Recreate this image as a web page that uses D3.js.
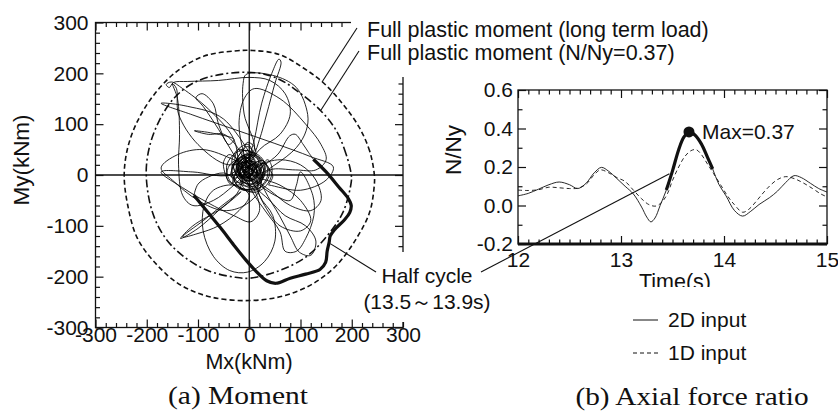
<!DOCTYPE html>
<html>
<head>
<meta charset="utf-8">
<script src="https://cdn.jsdelivr.net/npm/d3@7"></script>
<style>
  body { margin: 0; background: #fff; }
  svg { display: block; }
  text { font-family: "Liberation Sans", Arial, sans-serif; fill: #111; }
  .serif { font-family: "Liberation Serif", "Times New Roman", serif; }
</style>
</head>
<body>
<svg id="chart" width="838" height="412"></svg>
<script>
// ---- data ----
var momentTicks = [-300, -200, -100, 0, 100, 200, 300];
var ratioTicks = [-0.2, 0, 0.2, 0.4, 0.6];
var timeTicks = [12, 13, 14, 15];

// full plastic moment, long term load (dashed), [Mx, My] kNm
var plasticLongTerm = [
  [244, 1], [235, 47], [215, 93], [183, 139], [144, 182], [105, 211], [59, 237], [7, 245],
  [-29, 244], [-88, 234], [-140, 205], [-185, 159], [-218, 106], [-237, 54], [-244, 0],
  [-237, -60], [-218, -125], [-179, -178], [-133, -217], [-75, -240], [0, -247], [66, -238],
  [124, -214], [170, -178], [209, -125], [235, -73], [244, -20]
];
// full plastic moment, N/Ny = 0.37 (dash-dot)
var plasticN037 = [
  [199, 1], [189, 41], [170, 87], [140, 126], [98, 162], [59, 188], [14, 201], [-55, 198],
  [-107, 182], [-146, 152], [-176, 106], [-195, 54], [-201, 0], [-189, -73], [-163, -125],
  [-127, -161], [-81, -188], [-29, -201], [1, -203], [59, -188], [111, -161], [150, -122],
  [183, -73], [199, -14]
];

// 2D input moment trajectory before the half cycle (thin)
var moment2D = [
  [-5, 10], [8, 22], [20, 12], [14, -4], [-2, -12], [-16, -2], [-20, 16], [-8, 30], [6, 36], [12, 24],
  [2, 10], [-10, 4], [-14, -14], [-2, -24], [14, -18], [24, -4], [30, 14], [22, 30], [8, 44], [-10, 48],
  [-22, 36], [-30, 18], [-36, 2], [-28, -14], [-14, -28], [4, -32], [20, -26], [34, -12], [40, 6],
  [32, 22], [16, 20], [6, 4], [-6, -4], [-20, 4], [-26, 24], [-18, 42], [-4, 56], [6, 48], [0, 34],
  [10, 70], [24, 140], [44, 200], [58, 228], [62, 222], [50, 180], [34, 120], [20, 70], [8, 40],
  [-14, 24], [-26, 34], [-40, 40], [-50, 26], [-48, 6], [-40, -12], [-24, -20], [-8, -14], [4, 0],
  [12, 12], [24, 20], [36, 30], [44, 16], [42, -6], [30, -24], [12, -34], [-6, -30], [-16, -16],
  [-30, 70], [-80, 130], [-130, 170], [-152, 183], [-162, 178], [-156, 172], [-148, 182], [-120, 184],
  [-60, 186], [0, 192], [40, 186], [70, 160], [80, 120], [60, 80], [20, 50],
  [-10, 0], [2, 16], [-6, 26], [-18, 20], [-22, 6], [-12, -6], [0, -4], [8, 8], [0, 22], [-12, 40],
  [-4, 64], [8, 58], [12, 40],
  [-40, 20], [-100, 60], [-138, 120], [-142, 170], [-150, 180], [-140, 150], [-136, 80], [-138, 20],
  [-130, -40], [-110, -60], [-70, -50], [-30, -20],
  [18, 26], [28, 8], [16, -10], [0, -18], [-18, -10], [-28, 8], [-34, 28], [-22, 50], [-6, 46], [4, 26],
  [-8, 12], [-22, -2], [-36, -18], [-44, -4], [-38, 20], [-20, 30], [-4, 18], [10, 6], [26, -6],
  [-50, 110], [-120, 135], [-172, 141], [-110, 118], [-30, 90], [50, 62], [120, 36], [164, 16],
  [150, -10], [100, -30], [40, -20],
  [38, -20], [46, -2], [34, 18], [18, 36], [0, 40], [-16, 30], [-8, 8], [6, -8], [20, -16], [14, 2],
  [-2, 14], [-20, 12], [-30, -6], [-18, -26], [0, -28], [18, -22], [10, -4], [-6, 6], [-16, 22],
  [10, 50], [-10, 120], [-12, 180], [-6, 198], [46, 196], [92, 172], [114, 119], [111, 87], [92, 54],
  [50, 20], [20, 4],
  [-30, 30], [-90, 50], [-140, 40], [-172, 14], [-150, -10], [-100, -50], [-50, -70], [-10, -60], [20, -30],
  [20, 10], [8, -6], [-8, 0], [-14, 18], [-2, 28], [14, 22], [26, 2], [20, -18], [2, -22], [-16, -6],
  [-24, 14], [-12, 32], [4, 40], [18, 28], [10, 8], [-4, -8], [-24, -14], [-34, 6], [-26, 28], [-8, 38],
  [-20, -30], [-60, -70], [-100, -105], [-134, -125], [-110, -100], [-55, -66], [-16, -33], [-40, -50],
  [-90, -90], [-130, -122], [-100, -115], [-60, -100], [-20, -70], [0, -40],
  [-30, -20], [-70, -30], [-88, -60], [-90, -110], [-70, -160], [-38, -188], [-3, -191], [30, -170],
  [50, -130], [46, -80], [20, -40],
  [12, 18], [4, -2], [-12, 10], [-6, 24], [10, 26], [22, 14], [16, -2], [0, 4], [-16, 14], [-28, 30],
  [-20, 52], [-2, 60], [6, 44], [-6, 30],
  [-40, 0], [-110, 6], [-172, 6], [-130, -25], [-80, -55], [-30, -80], [3, -92], [20, -70], [10, -30],
  [-10, -6], [8, 14], [-8, 36], [-30, 20], [-20, -8], [6, -18], [28, -4], [20, 30], [-4, 48], [-26, 44],
  [-44, 18], [-36, -14], [-8, -28], [18, -26], [36, 0], [28, 28], [4, 20], [-10, 2],
  [20, -20], [50, -40], [80, -50], [92, -20], [100, 6], [124, -40], [126, -80], [110, -125], [92, -150],
  [70, -150], [60, -112], [33, -73], [10, -40],
  [-4, -14], [-18, 2], [-10, 18], [4, 12], [0, -2], [-14, -6], [-26, 6], [-20, 26], [-2, 34], [10, 20],
  [30, -30], [59, -80], [80, -120], [98, -152], [120, -158], [130, -130], [110, -100], [70, -80], [40, -50],
  [10, -20],
  [-10, 40], [-20, 100], [-10, 150], [10, 170], [60, 150], [110, 100], [140, 60], [150, 30], [130, 10],
  [90, 10], [40, 10],
  [16, -12], [-6, -22], [-28, -8], [-34, 16], [-16, 36], [8, 44], [28, 28], [30, 0], [14, -22], [-10, -30],
  [-32, -16], [-20, 10], [0, 22], [14, 8], [2, -8],
  [-30, 40], [-60, 90], [-90, 135], [-104, 152], [-92, 160], [-70, 140], [-60, 100], [-40, 60],
  [-30, 70], [-70, 82], [-107, 87], [-80, 80], [-49, 80], [-20, 50],
  [-8, 24], [6, 10], [-4, -6], [-18, 4], [-12, 20], [2, 28], [16, 16],
  [20, 20], [60, 30], [100, 20], [130, -10], [140, -50], [120, -70], [80, -60], [40, -30],
  [10, -10], [-14, 0], [-24, 22], [-8, 40], [14, 34], [24, 12], [12, -8], [-8, -10], [-18, 8], [-4, 24],
  [10, 16], [6, 2],
  [30, 20], [56, 41], [79, 77], [90, 80], [104, 62], [116, 44], [125, 31]
];
// half cycle 13.5-13.9 s (thick)
var halfCycle = [
  [125, 31], [150, 6], [175, -24], [193, -46], [199, -60], [196, -74], [186, -88], [166, -108],
  [158, -120], [156, -132], [152, -150], [149, -172], [138, -186], [110, -195], [80, -203], [52, -213],
  [34, -208], [12, -188], [-6, -168], [-30, -138], [-56, -104], [-82, -72], [-108, -40]
];
// after the half cycle (thin)
var momentAfter = [
  [-108, -40], [-100, -18], [-80, -4], [-50, 4], [-26, -6], [-10, 8], [6, 22], [-8, 34], [-24, 20],
  [-20, 0], [0, -12], [16, 2], [10, 20], [-6, 16], [-4, 4], [60, -20], [100, -50], [120, -90],
  [100, -110], [60, -100], [30, -60], [10, -20], [-6, 0], [-16, 12], [-8, 26], [6, 18], [4, 6]
];

// axial force ratio N/Ny vs time, [t, N/Ny]
var input2D = [
  [12.0, 0.050], [12.1, 0.063], [12.2, 0.085], [12.3, 0.108], [12.4, 0.122], [12.5, 0.108],
  [12.58, 0.088], [12.66, 0.115], [12.74, 0.170], [12.81, 0.198], [12.88, 0.178], [12.96, 0.140],
  [13.04, 0.100], [13.12, 0.060], [13.2, -0.008], [13.25, -0.060], [13.29, -0.085], [13.33, -0.065],
  [13.38, 0.000], [13.44, 0.080], [13.5, 0.180], [13.56, 0.290], [13.61, 0.355], [13.66, 0.382],
  [13.72, 0.365], [13.78, 0.320], [13.84, 0.250], [13.89, 0.190], [13.95, 0.110], [14.02, 0.050],
  [14.1, -0.025], [14.18, -0.055], [14.26, -0.030], [14.34, 0.005], [14.44, 0.040], [14.52, 0.075],
  [14.6, 0.120], [14.68, 0.155], [14.75, 0.145], [14.84, 0.115], [14.92, 0.088], [15.0, 0.070]
];
var input1D = [
  [12.0, 0.080], [12.1, 0.078], [12.2, 0.082], [12.3, 0.095], [12.4, 0.092], [12.5, 0.088],
  [12.58, 0.090], [12.66, 0.110], [12.74, 0.160], [12.8, 0.185], [12.88, 0.170], [12.96, 0.145],
  [13.04, 0.125], [13.12, 0.080], [13.2, 0.035], [13.27, 0.005], [13.34, -0.003], [13.4, 0.020],
  [13.45, 0.060], [13.5, 0.130], [13.56, 0.200], [13.62, 0.255], [13.68, 0.285], [13.73, 0.290],
  [13.78, 0.265], [13.84, 0.215], [13.9, 0.165], [13.97, 0.105], [14.04, 0.045], [14.1, 0.005],
  [14.18, -0.035], [14.24, -0.020], [14.31, 0.020], [14.38, 0.065], [14.45, 0.105], [14.52, 0.135],
  [14.6, 0.150], [14.68, 0.140], [14.76, 0.120], [14.86, 0.088], [14.94, 0.060], [15.0, 0.045]
];
var halfCycleTime = [13.44, 13.89];
var maxLabel = "Max=0.37";

// ---- drawing ----
var svg = d3.select("#chart");
var ink = "#111";

var xM = d3.scaleLinear().domain([-300, 300]).range([95.5, 403]);
var yM = d3.scaleLinear().domain([-300, 300]).range([327.5, 22.5]);
var xT = d3.scaleLinear().domain([12, 15]).range([518, 827]);
var yN = d3.scaleLinear().domain([-0.2, 0.6]).range([244, 90]);

var addAxis = function(axisFn, scale, values, size, transform, fmt, pad) {
  var axis = axisFn(scale).tickValues(values).tickSize(-size)
    .tickPadding(pad || 0).tickFormat(fmt || function() { return ""; });
  var g = svg.append("g").attr("transform", transform).call(axis);
  g.attr("font-family", null).attr("font-size", null);
  g.select(".domain").remove();
  g.selectAll("line").attr("stroke", ink).attr("stroke-width", 1.2);
  g.selectAll("text").attr("font-size", 21).attr("fill", ink);
  return g;
};

var frameTicks = function(x, y, xMaj, xMin, yMaj, yMin, fx, fy, xPad, yPad) {
  var x0 = x.range()[0], x1 = x.range()[1], y0 = y.range()[1], y1 = y.range()[0];
  addAxis(d3.axisBottom, x, xMin, 4.5, "translate(0," + y1 + ")");
  addAxis(d3.axisTop, x, xMin, 4.5, "translate(0," + y0 + ")");
  addAxis(d3.axisLeft, y, yMin, 4.5, "translate(" + x0 + ",0)");
  addAxis(d3.axisRight, y, yMin, 4.5, "translate(" + x1 + ",0)");
  addAxis(d3.axisBottom, x, xMaj, 8, "translate(0," + y1 + ")", fx, xPad);
  addAxis(d3.axisTop, x, xMaj, 8, "translate(0," + y0 + ")");
  addAxis(d3.axisLeft, y, yMaj, 8, "translate(" + x0 + ",0)", fy, yPad);
  addAxis(d3.axisRight, y, yMaj, 8, "translate(" + x1 + ",0)");
  svg.append("rect").attr("x", x0).attr("y", y0)
    .attr("width", x1 - x0).attr("height", y1 - y0)
    .attr("fill", "none").attr("stroke", ink).attr("stroke-width", 1.3);
};

// (a) moment panel
var momentMinor = d3.range(-300, 301, 20).filter(function(d) { return d % 100 !== 0; });
var intFmt = function(d) { return String(d); };
frameTicks(xM, yM, momentTicks, momentMinor, momentTicks, momentMinor, intFmt, intFmt, 0, 7);

svg.append("line").attr("x1", xM(-300)).attr("x2", xM(300)).attr("y1", yM(0)).attr("y2", yM(0))
  .attr("stroke", ink).attr("stroke-width", 1.3);
svg.append("line").attr("x1", xM(0)).attr("x2", xM(0)).attr("y1", yM(-300)).attr("y2", yM(300))
  .attr("stroke", ink).attr("stroke-width", 1.3);

var closedLine = d3.line().x(function(d) { return xM(d[0]); }).y(function(d) { return yM(d[1]); })
  .curve(d3.curveCatmullRomClosed);
var openLine = d3.line().x(function(d) { return xM(d[0]); }).y(function(d) { return yM(d[1]); })
  .curve(d3.curveCatmullRom);

svg.append("path").attr("d", closedLine(plasticLongTerm)).attr("fill", "none")
  .attr("stroke", ink).attr("stroke-width", 1.6).attr("stroke-dasharray", "5,3");
svg.append("path").attr("d", closedLine(plasticN037)).attr("fill", "none")
  .attr("stroke", ink).attr("stroke-width", 1.6).attr("stroke-dasharray", "8,3,2,3");

svg.append("path").attr("d", openLine(moment2D)).attr("fill", "none")
  .attr("stroke", "#000").attr("stroke-width", 0.85);
svg.append("path").attr("d", openLine(momentAfter)).attr("fill", "none")
  .attr("stroke", "#000").attr("stroke-width", 0.85);
svg.append("path").attr("d", openLine(halfCycle)).attr("fill", "none")
  .attr("stroke", ink).attr("stroke-width", 3.2).attr("stroke-linejoin", "round");

svg.append("text").attr("x", 249).attr("y", 369).attr("text-anchor", "middle")
  .attr("font-size", 21.5).text("Mx(kNm)");
svg.append("text").attr("transform", "translate(29,160) rotate(-90)").attr("text-anchor", "middle")
  .attr("font-size", 22.5).text("My(kNm)");
svg.append("text").attr("class", "serif").attr("x", 238).attr("y", 404).attr("text-anchor", "middle")
  .attr("font-size", 26).attr("textLength", 140).attr("lengthAdjust", "spacingAndGlyphs")
  .text("(a) Moment");

// (b) axial force ratio panel
var timeMinor = d3.range(120, 151).filter(function(d) { return d % 10 !== 0; })
  .map(function(d) { return d / 10; });
var ratioMinor = [-0.1, 0.1, 0.3, 0.5];
frameTicks(xT, yN, timeTicks, timeMinor, ratioTicks, ratioMinor,
  intFmt, function(d) { return d.toFixed(1); }, 8, 5);
svg.append("line").attr("x1", xT(12)).attr("x2", xT(15)).attr("y1", yN(-0.2)).attr("y2", yN(-0.2))
  .attr("stroke", ink).attr("stroke-width", 2.8);

var ratioLine = d3.line().x(function(d) { return xT(d[0]); }).y(function(d) { return yN(d[1]); })
  .curve(d3.curveCatmullRom);
svg.append("path").attr("d", ratioLine(input1D)).attr("fill", "none")
  .attr("stroke", ink).attr("stroke-width", 0.9).attr("stroke-dasharray", "4,3");
svg.append("path").attr("d", ratioLine(input2D)).attr("fill", "none")
  .attr("stroke", ink).attr("stroke-width", 0.9);
var thick = input2D.filter(function(d) { return d[0] >= halfCycleTime[0] && d[0] <= halfCycleTime[1]; });
svg.append("path").attr("d", ratioLine(thick)).attr("fill", "none")
  .attr("stroke", ink).attr("stroke-width", 3.2).attr("stroke-linecap", "butt");

var peak = d3.greatest(input2D, function(d) { return d[1]; });
svg.append("circle").attr("cx", xT(peak[0])).attr("cy", yN(peak[1])).attr("r", 5.5).attr("fill", ink);
svg.append("text").attr("x", xT(peak[0]) + 13).attr("y", 139).attr("font-size", 21).text(maxLabel);

svg.append("text").attr("transform", "translate(461,150) rotate(-90)").attr("text-anchor", "middle")
  .attr("font-size", 22.5).text("N/Ny");
svg.append("text").attr("x", 675).attr("y", 289).attr("text-anchor", "middle")
  .attr("font-size", 21.5).text("Time(s)");

// white label boxes
svg.append("rect").attr("x", 351).attr("y", 0).attr("width", 370).attr("height", 77).attr("fill", "#fff");
svg.append("rect").attr("x", 360).attr("y", 252).attr("width", 140).attr("height", 70).attr("fill", "#fff");
svg.append("rect").attr("x", 620).attr("y", 287).attr("width", 150).attr("height", 84).attr("fill", "#fff");

// annotations
svg.append("text").attr("x", 367).attr("y", 37).attr("font-size", 21.5)
  .text("Full plastic moment (long term load)");
svg.append("text").attr("x", 367).attr("y", 60).attr("font-size", 21.5)
  .text("Full plastic moment (N/Ny=0.37)");
svg.append("line").attr("x1", 357).attr("y1", 28).attr("x2", xM(142)).attr("y2", yM(183))
  .attr("stroke", ink).attr("stroke-width", 1.1);
svg.append("line").attr("x1", 359).attr("y1", 51).attr("x2", xM(140)).attr("y2", yM(128))
  .attr("stroke", ink).attr("stroke-width", 1.1);

svg.append("text").attr("x", 427).attr("y", 283).attr("text-anchor", "middle").attr("font-size", 21)
  .text("Half cycle");
svg.append("text").attr("x", 427).attr("y", 309).attr("text-anchor", "middle").attr("font-size", 21)
  .text("(13.5～13.9s)");
svg.append("line").attr("x1", 376).attr("y1", 272).attr("x2", xM(158)).attr("y2", yM(-135))
  .attr("stroke", ink).attr("stroke-width", 1.1);
svg.append("line").attr("x1", 481).attr("y1", 272).attr("x2", xT(13.47)).attr("y2", yN(0.165))
  .attr("stroke", ink).attr("stroke-width", 1.1);

// legend
svg.append("line").attr("x1", 633).attr("x2", 658).attr("y1", 320).attr("y2", 320)
  .attr("stroke", ink).attr("stroke-width", 1);
svg.append("text").attr("x", 668).attr("y", 327).attr("font-size", 21).text("2D input");
svg.append("line").attr("x1", 633).attr("x2", 658).attr("y1", 353).attr("y2", 353)
  .attr("stroke", ink).attr("stroke-width", 1).attr("stroke-dasharray", "4,3");
svg.append("text").attr("x", 668).attr("y", 360).attr("font-size", 21).text("1D input");

svg.append("text").attr("class", "serif").attr("x", 692).attr("y", 405).attr("text-anchor", "middle")
  .attr("font-size", 26).attr("textLength", 233).attr("lengthAdjust", "spacingAndGlyphs")
  .text("(b) Axial force ratio");
</script>
</body>
</html>
